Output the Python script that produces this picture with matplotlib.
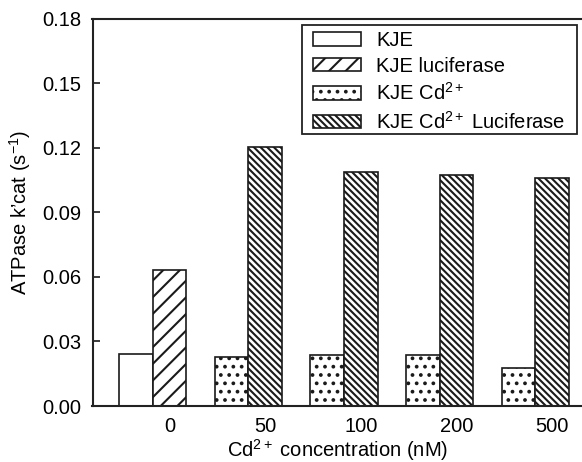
import numpy as np
import matplotlib
matplotlib.use("Agg")
import matplotlib.pyplot as plt
from matplotlib.patches import Rectangle

plt.rcParams['font.family'] = ['Liberation Sans', 'DejaVu Sans']
plt.rcParams['mathtext.fontset'] = 'custom'
plt.rcParams['mathtext.rm'] = 'Liberation Sans'
plt.rcParams['mathtext.it'] = 'Liberation Sans:italic'
plt.rcParams['mathtext.bf'] = 'Liberation Sans:bold'
plt.rcParams['hatch.linewidth'] = 1.5
plt.rcParams['hatch.color'] = '#111111'

# ---- data ----
categories = ['0', '50', '100', '200', '500']
kje = [0.0242]                                 # only at 0 nM
kje_luciferase = [0.0633]                      # only at 0 nM
kje_cd = [0.0226, 0.0236, 0.0236, 0.0178]      # 50..500 nM
kje_cd_luciferase = [0.1205, 0.1085, 0.1073, 0.1059]  # 50..500 nM
series_labels = ['KJE', 'KJE luciferase', 'KJE Cd$^{2+}$', 'KJE Cd$^{2+}$ Luciferase']
yticks = [0.00, 0.03, 0.06, 0.09, 0.12, 0.15, 0.18]

fig = plt.figure(figsize=(5.82, 4.62), dpi=100)
AX_L, AX_R, AX_T, AX_B = 92.5, 582.0, 18.5, 406.0
ax = fig.add_axes([AX_L/582, 1-AX_B/462, (AX_R-AX_L)/582, (AX_B-AX_T)/462])

def ax_frac(px, py):
    return (px - AX_L) / (AX_R - AX_L), 1 - (py - AX_T) / (AX_B - AX_T)

x = np.arange(len(categories))
w = 0.352
ec = '#1a1a1a'
kw = dict(width=w, color='white', edgecolor=ec, linewidth=1.2, align='center')

ax.bar(x[:1] - w, kje, label=series_labels[0], **kw)
ax.bar(x[:1], kje_luciferase, hatch='//', label=series_labels[1], **kw)
ax.bar(x[1:] - w, kje_cd, hatch='..', label=series_labels[2], **kw)
ax.bar(x[1:], kje_cd_luciferase, hatch='\\\\\\\\\\', label=series_labels[3], **kw)

ax.set_xlim(-0.807, 4.313)
ax.set_ylim(0, 0.18)
ax.set_yticks(yticks)
ax.set_yticklabels([f'{v:.2f}' for v in yticks])
ax.set_xticks(x)
ax.set_xticklabels(categories)

ax.tick_params(axis='y', direction='in', length=5, width=1.2, pad=8, labelsize=14.5, color=ec)
ax.tick_params(axis='x', length=0, pad=8, labelsize=14.5)
for s in ['left', 'top', 'bottom']:
    ax.spines[s].set_linewidth(1.5)
    ax.spines[s].set_color('#222222')
ax.spines['right'].set_visible(False)

ax.set_xlabel('Cd$^{2+}$ concentration (nM)', fontsize=14.5, labelpad=1)
ax.set_ylabel('ATPase k\u2019cat (s$^{-1}$)', fontsize=14.5, labelpad=7)

# legend (entries) without its own frame; frame box drawn separately
leg = ax.legend(loc='upper left', bbox_to_anchor=ax_frac(313, 31),
                borderaxespad=0, fontsize=14.5, frameon=False,
                handlelength=2.4, handleheight=0.65,
                handletextpad=0.75, labelspacing=0.33, borderpad=0)
x0, y1 = ax_frac(301.7, 25.5)
x1, y0 = ax_frac(577.3, 134)
ax.add_patch(Rectangle((x0, y0), x1 - x0, y1 - y0, transform=ax.transAxes,
                       fill=False, edgecolor='#222222', linewidth=1.3,
                       clip_on=False, zorder=5))

fig.savefig('out.png', dpi=100)
